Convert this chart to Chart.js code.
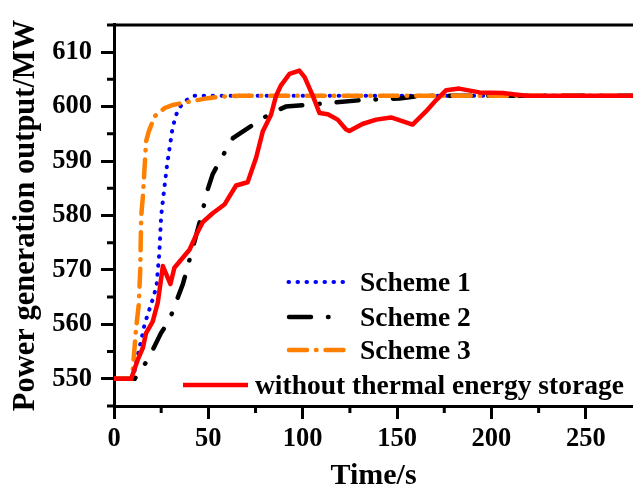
<!DOCTYPE html>
<html>
<head>
<meta charset="utf-8">
<script src="https://cdn.jsdelivr.net/npm/chart.js@4.4.1/dist/chart.umd.min.js"></script>
<style>
  html, body { margin: 0; padding: 0; background: #fff; }
  #wrap { width: 633px; height: 489px; }
</style>
</head>
<body>
<div id="wrap"><canvas id="chart" width="633" height="489"></canvas></div>
<script>
// values (time in s, power in MW)
const scheme1Time  = [0, 10, 13, 15, 16.2, 20.6, 22.5, 24, 25, 26.5, 28, 29.5, 31, 32.5, 34, 37.5, 42.5, 275];
const scheme1Power = [550, 550, 555, 558, 560, 564.7, 567, 573, 580, 584.5, 589, 592.5, 596, 598, 599.5, 601, 602, 602];

const scheme2Time  = [0, 11, 17.9, 24.9, 29.4, 32.8, 36.5, 41.7, 47.1, 49.1, 52.3, 58.5, 63, 70.8, 83.2, 91.1, 101.9, 112.4, 131.6, 151.3, 163.2, 275];
const scheme2Power = [550, 550, 553.5, 558.4, 560.8, 564, 567.4, 574, 581, 584.2, 587.6, 591.5, 594.2, 596, 598.8, 600, 600.3, 600.6, 601.2, 601.5, 602, 602];

const scheme3Time  = [0, 9, 9.9, 11.7, 13.1, 13.9, 14.4, 15.3, 16.2, 17, 18.4, 21.5, 26.7, 31.2, 40, 48.8, 55.8, 66.4, 275];
const scheme3Power = [550, 550, 551.4, 559.3, 563.5, 570, 579.8, 583.5, 588.8, 593.6, 595.4, 598.2, 599.7, 600.3, 600.9, 601.5, 601.8, 602, 602];

const noStorageTime  = [0, 9.1, 12.6, 15.3, 17, 20.5, 23.2, 25.9, 29.9, 32, 40, 43.5, 47.1, 52.3, 58.5, 64.7, 70.8, 75.3, 78.8, 83.2, 85.9, 88.5, 93, 98.2, 101, 105.3, 108.9, 113.3, 118.5, 123, 124.7, 131.6, 138.9, 146.8, 153.9, 158.2, 165.3, 170.7, 176, 182.9, 193.6, 205.9, 218.3, 275];
const noStoragePower = [550, 550, 553.5, 555.7, 558.4, 560.5, 564, 570.7, 567.4, 570.4, 573.7, 576.4, 578.8, 580.4, 582, 585.5, 586.1, 590.6, 595.4, 598.5, 602, 603.9, 606, 606.6, 605.4, 602, 598.8, 598.6, 597.6, 595.8, 595.5, 596.8, 597.6, 598, 597.2, 596.7, 599.1, 601.2, 603, 603.3, 602.6, 602.5, 602, 602];

const seriesLabels = ["Scheme 1", "Scheme 2", "Scheme 3", "without thermal energy storage"];

const xTicks = [0, 50, 100, 150, 200, 250];
const xMinorTicks = [25, 75, 125, 175, 225];
const yTicks = [550, 560, 570, 580, 590, 600, 610];
const yMinorTicks = [545, 555, 565, 575, 585, 595, 605, 615];

const serif = '"Liberation Serif", "Times New Roman", serif';

function pts(xs, ys) {
  return xs.map((x, i) => ({ x: x, y: ys[i] }));
}

// legend placement (pixels)
const legendRows = [
  { ds: 0, x0: 288.5, x1: 343, tx: 360, y: 282 },
  { ds: 1, x0: 289, x1: 330, tx: 360, y: 317 },
  { ds: 2, x0: 289, x1: 350, tx: 360, y: 350 },
  { ds: 3, x0: 183, x1: 248, tx: 255, y: 385 }
];

const framePlugin = {
  id: "frame",
  afterDraw(chart) {
    const { ctx, chartArea: a, scales: { x, y } } = chart;
    ctx.save();
    ctx.strokeStyle = "#000";
    ctx.lineWidth = 3;
    ctx.beginPath();
    ctx.moveTo(a.left - 1.5, a.top);
    ctx.lineTo(a.right, a.top);
    xMinorTicks.forEach(v => {
      const px = x.getPixelForValue(v);
      ctx.moveTo(px, a.bottom);
      ctx.lineTo(px, a.bottom + 7);
    });
    yMinorTicks.forEach(v => {
      const py = y.getPixelForValue(v);
      ctx.moveTo(a.left, py);
      ctx.lineTo(a.left - 7, py);
    });
    ctx.stroke();

    // legend
    ctx.font = "bold 27.5px " + serif;
    ctx.fillStyle = "#000";
    ctx.textBaseline = "alphabetic";
    legendRows.forEach(r => {
      const ds = chart.data.datasets[r.ds];
      ctx.save();
      ctx.strokeStyle = ds.borderColor;
      ctx.lineWidth = ds.borderWidth;
      ctx.lineCap = ds.borderCapStyle || "butt";
      ctx.setLineDash(ds.borderDash || []);
      ctx.beginPath();
      ctx.moveTo(r.x0, r.y);
      ctx.lineTo(r.x1, r.y);
      ctx.stroke();
      ctx.restore();
      ctx.fillText(ds.label, r.tx, r.y + 9);
    });
    ctx.restore();
  }
};

new Chart(document.getElementById("chart"), {
  type: "line",
  data: {
    datasets: [
      {
        label: seriesLabels[0],
        data: pts(scheme1Time, scheme1Power),
        borderColor: "#0000ff",
        borderWidth: 4,
        borderDash: [0.5, 8.5],
        borderCapStyle: "round",
        order: 3
      },
      {
        label: seriesLabels[1],
        data: pts(scheme2Time, scheme2Power),
        borderColor: "#000000",
        borderWidth: 4.5,
        borderDash: [22, 17, 0.5, 17],
        borderCapStyle: "round",
        order: 2
      },
      {
        label: seriesLabels[2],
        data: pts(scheme3Time, scheme3Power),
        borderColor: "#ff8000",
        borderWidth: 4.5,
        borderDash: [18, 9, 0.5, 9],
        borderCapStyle: "round",
        order: 1
      },
      {
        label: seriesLabels[3],
        data: pts(noStorageTime, noStoragePower),
        borderColor: "#ff0000",
        borderWidth: 4.5,
        borderJoinStyle: "round",
        order: 0
      }
    ]
  },
  options: {
    responsive: false,
    animation: false,
    devicePixelRatio: 1,
    layout: { padding: { top: 18, right: 0, bottom: 0, left: 0 } },
    elements: { point: { radius: 0 }, line: { tension: 0 } },
    plugins: { legend: { display: false }, tooltip: { enabled: false } },
    scales: {
      x: {
        type: "linear",
        min: 0,
        max: 275,
        afterBuildTicks: s => { s.ticks = xTicks.map(v => ({ value: v })); },
        afterFit: s => { s.height = 83; },
        border: { color: "#000", width: 3 },
        grid: { drawOnChartArea: false, tickLength: 13, tickWidth: 3, tickColor: "#000" },
        ticks: {
          autoSkip: false, maxRotation: 0, padding: 4, color: "#000",
          font: { family: serif, size: 26.5, weight: "bold" }
        },
        title: {
          display: true, text: "Time/s", color: "#000",
          font: { family: serif, size: 30, weight: "bold", lineHeight: 0.85 },
          padding: { top: 0, bottom: 0 }
        }
      },
      y: {
        type: "linear",
        min: 545,
        max: 615,
        afterBuildTicks: s => { s.ticks = yTicks.map(v => ({ value: v })); },
        afterFit: s => { s.width = 114; },
        border: { color: "#000", width: 3 },
        grid: { drawOnChartArea: false, tickLength: 13, tickWidth: 3, tickColor: "#000" },
        ticks: {
          padding: 9, color: "#000",
          font: { family: serif, size: 26.5, weight: "bold" }
        },
        title: {
          display: true, text: "Power generation output/MW", color: "#000",
          font: { family: serif, size: 30.5, weight: "bold", lineHeight: 1.2 },
          padding: { top: 8, bottom: 0 }
        }
      }
    }
  },
  plugins: [framePlugin]
});
</script>
</body>
</html>
